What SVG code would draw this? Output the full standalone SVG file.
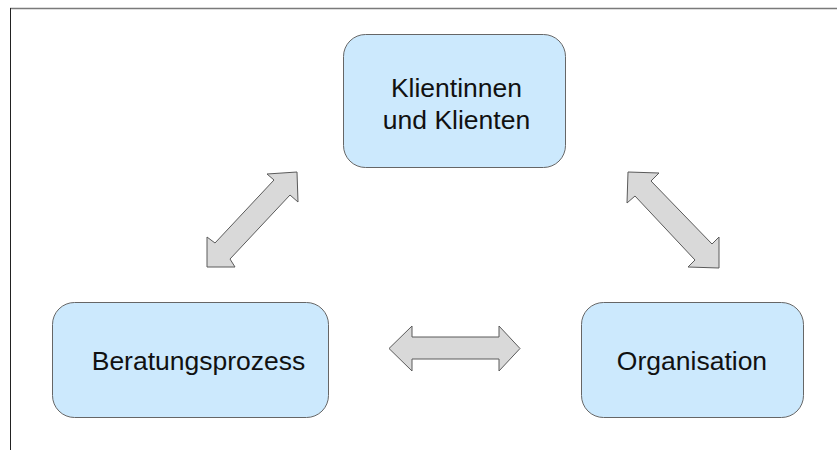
<svg xmlns="http://www.w3.org/2000/svg" width="837" height="450" viewBox="0 0 837 450">
<style>
.box{fill:#cce9fd;stroke:#666666;stroke-width:1}
.lbl{font-family:"Liberation Sans",Arial,sans-serif;font-size:26.5px;fill:#111;text-anchor:middle}
.arr{fill:#d9d9d9;stroke:#5a5a5a;stroke-width:1;stroke-linejoin:miter}
</style>
<rect x="0" y="0" width="837" height="450" fill="#ffffff"/>
<g id="frame">
<line x1="10" y1="8.5" x2="837" y2="8.5" stroke="#7a7a7a" stroke-width="1.5"/>
<line x1="10.5" y1="8" x2="10.5" y2="450" stroke="#222" stroke-width="1"/>
</g>
<g id="node-klienten">
<rect class="box" x="343.5" y="34.5" width="222" height="133" rx="22"/>
<text class="lbl" x="456.5" y="97">Klientinnen</text>
<text class="lbl" x="456.5" y="129">und Klienten</text>
</g>
<g id="node-beratung">
<rect class="box" x="52.5" y="302.5" width="276" height="115" rx="22"/>
<text class="lbl" x="198.5" y="370">Beratungsprozess</text>
</g>
<g id="node-organisation">
<rect class="box" x="581.5" y="302.5" width="222" height="115" rx="22"/>
<text class="lbl" x="692" y="370">Organisation</text>
</g>
<g id="connectors">
<polygon class="arr" points="297,172 298,202 290,195 230,259 235,267 207,267 207,237 215,243 274,180 267,174"/>
<polygon class="arr" points="628,172 659,173 651,181 712,244 719,237 719,268 688,267 695,260 635,196 627,203"/>
<polygon class="arr" points="389,348.5 412,326 412,337 499,337 499,326 520,348.5 499,371 499,359 412,359 412,371"/>
</g>
</svg>
